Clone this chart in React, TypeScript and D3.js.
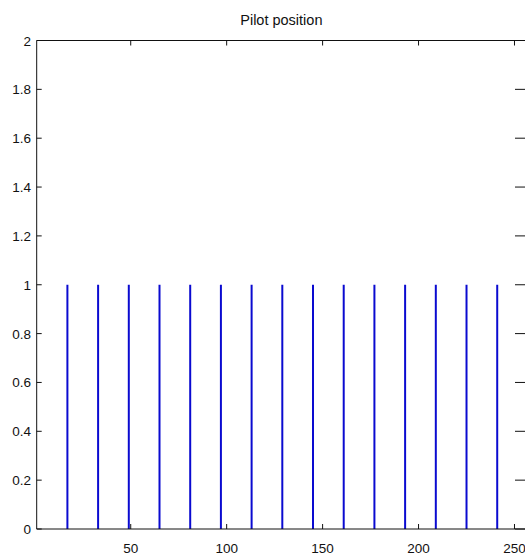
import React from "react";
import * as d3 from "d3";

const title = "Pilot position";
const pilotPositions = [17, 33, 49, 65, 81, 97, 113, 129, 145, 161, 177, 193, 209, 225, 241];
const pilotValues = [1, 1, 1, 1, 1, 1, 1, 1, 1, 1, 1, 1, 1, 1, 1];
const xDomain = [1, 256];
const yDomain = [0, 2];
const xTicks = [50, 100, 150, 200, 250];
const yTicks = [0, 0.2, 0.4, 0.6, 0.8, 1, 1.2, 1.4, 1.6, 1.8, 2];

export default function App() {
  const W = 525;
  const H = 556;
  const left = 36.7;
  const right = 526;
  const top = 40.5;
  const bottom = 529;
  const x = d3.scaleLinear().domain(xDomain).range([left, right]);
  const y = d3.scaleLinear().domain(yDomain).range([bottom, top]);
  const tl = 5;
  const font = "'Liberation Sans', Arial, sans-serif";

  return (
    <svg
      width={W}
      height={H}
      style={{ position: "absolute", left: 0, top: 0, background: "#fff" }}
      fontFamily={font}
    >
      <rect x={0} y={0} width={W} height={H} fill="#fff" />
      {pilotPositions.map((p, i) => (
        <line
          key={"s" + i}
          x1={x(p)}
          x2={x(p)}
          y1={y(0)}
          y2={y(pilotValues[i])}
          stroke="#0a0ad0"
          strokeWidth={2}
        />
      ))}
      <line x1={left} x2={right + 2} y1={top} y2={top} stroke="#111" />
      <line x1={left} x2={right + 2} y1={bottom} y2={bottom} stroke="#111" />
      <line x1={left} x2={left} y1={top} y2={bottom} stroke="#111" />
      {xTicks.map((t) => (
        <g key={"x" + t}>
          <line x1={x(t)} x2={x(t)} y1={bottom} y2={bottom - tl} stroke="#111" />
          <line x1={x(t)} x2={x(t)} y1={top} y2={top + tl} stroke="#111" />
          <text x={x(t)} y={553} textAnchor="middle" fontSize={13.5} fill="#111">
            {t}
          </text>
        </g>
      ))}
      {yTicks.map((t) => (
        <g key={"y" + t}>
          <line x1={left} x2={left + tl} y1={y(t)} y2={y(t)} stroke="#111" />
          <line x1={right} x2={right - tl - 6} y1={y(t)} y2={y(t)} stroke="#111" />
          <text x={31} y={y(t) + 5} textAnchor="end" fontSize={13.5} fill="#111">
            {String(t)}
          </text>
        </g>
      ))}
      <text x={(left + right) / 2} y={25} textAnchor="middle" fontSize={14.5} fill="#111">
        {title}
      </text>
    </svg>
  );
}
